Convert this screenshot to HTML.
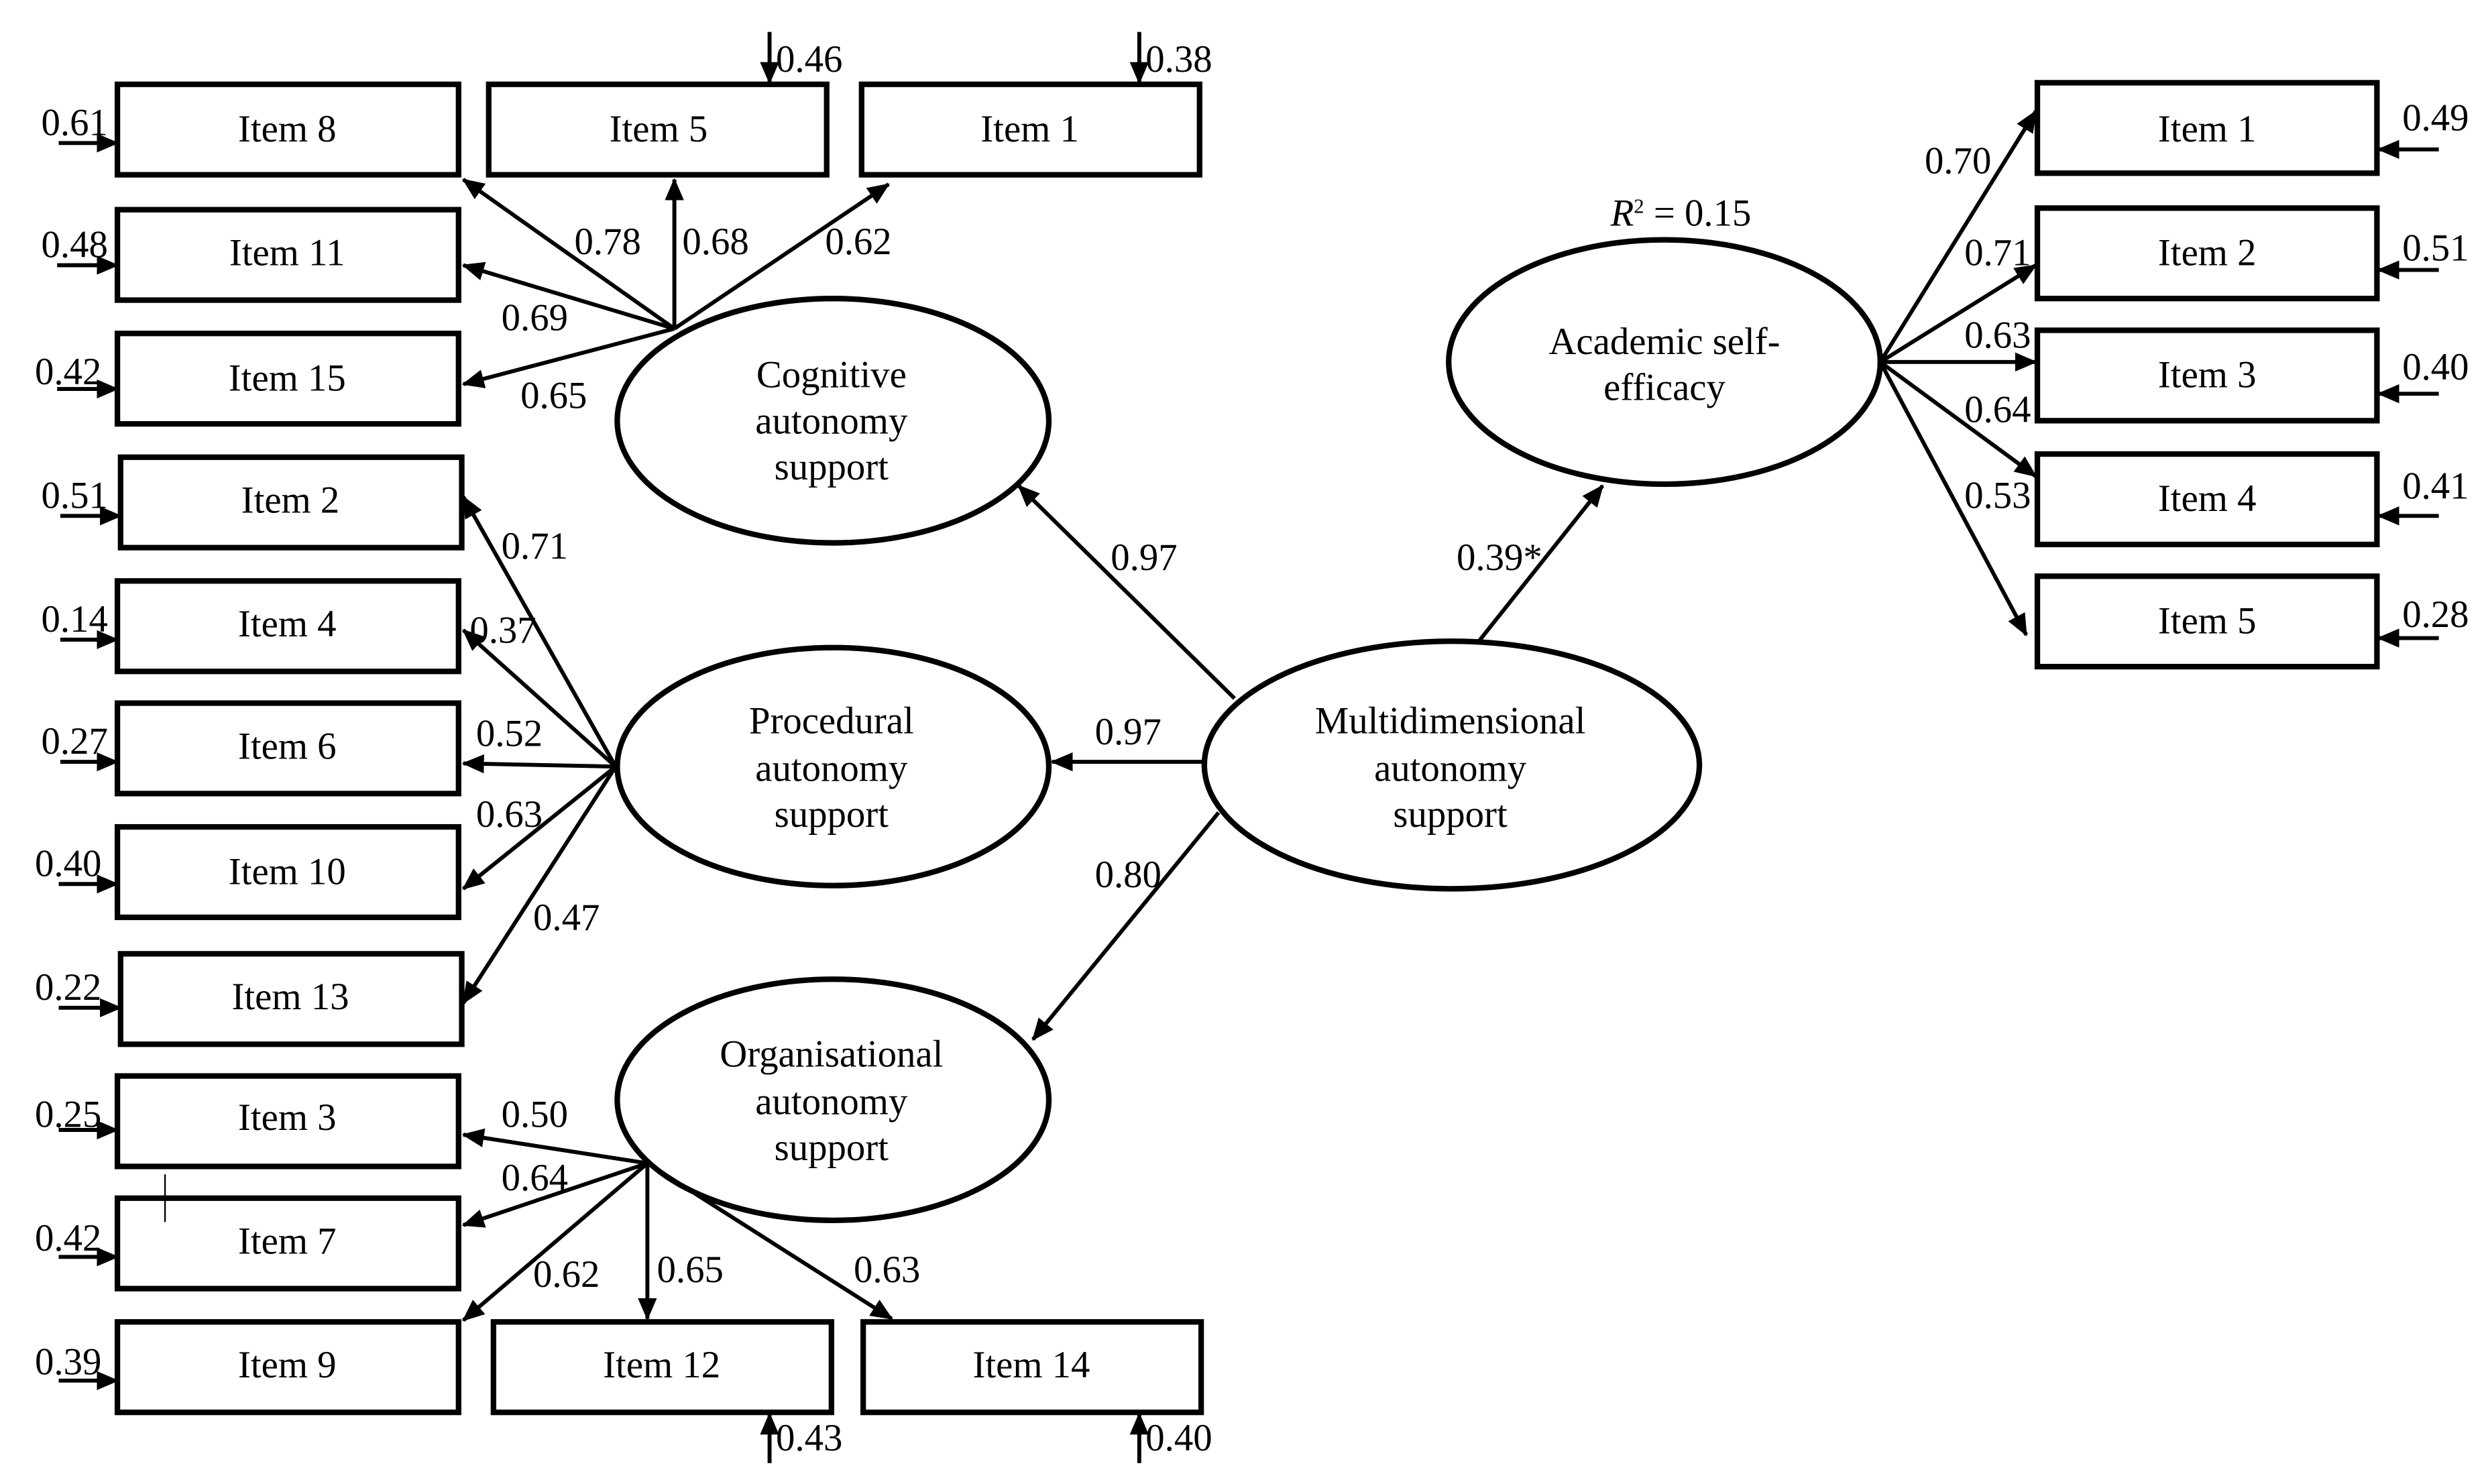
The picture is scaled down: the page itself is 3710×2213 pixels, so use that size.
<!DOCTYPE html>
<html><head><meta charset="utf-8"><style>
html,body{margin:0;padding:0;background:#fff;}
svg{display:block;}
text{font-family:"Liberation Serif",serif;font-size:24px;fill:#000;}
</style></head><body>
<svg width="3710" height="2213" viewBox="0 0 1568 935" xmlns="http://www.w3.org/2000/svg">
<defs>
<marker id="b" markerWidth="14" markerHeight="12" refX="13" refY="6" orient="auto" markerUnits="userSpaceOnUse">
<path d="M0,0 L14,6 L0,12 z" fill="#000"/>
</marker>
</defs>
<g fill="none" stroke="#000" stroke-width="3.5">
<rect x="74" y="53" width="215" height="57"/>
<rect x="74" y="132" width="215" height="57"/>
<rect x="74" y="210" width="215" height="57"/>
<rect x="76" y="288" width="215" height="57"/>
<rect x="74" y="366" width="215" height="57"/>
<rect x="74" y="443" width="215" height="57"/>
<rect x="74" y="521" width="215" height="57"/>
<rect x="76" y="601" width="215" height="57"/>
<rect x="74" y="678" width="215" height="57"/>
<rect x="74" y="755" width="215" height="57"/>
<rect x="74" y="833" width="215" height="57"/>
<rect x="308" y="53" width="213" height="57"/>
<rect x="543" y="53" width="213" height="57"/>
<rect x="311" y="833" width="213" height="57"/>
<rect x="544" y="833" width="213" height="57"/>
<rect x="1284" y="52" width="214" height="57"/>
<rect x="1284" y="131" width="214" height="57"/>
<rect x="1284" y="208" width="214" height="57"/>
<rect x="1284" y="286" width="214" height="57"/>
<rect x="1284" y="363" width="214" height="57"/>
</g>
<g fill="none" stroke="#000" stroke-width="3.5">
<ellipse cx="525" cy="265" rx="136" ry="77"/>
<ellipse cx="525" cy="483" rx="136" ry="75"/>
<ellipse cx="525" cy="693" rx="136" ry="76"/>
<ellipse cx="915" cy="482" rx="156" ry="78"/>
<ellipse cx="1049" cy="228" rx="136" ry="77"/>
</g>
<g stroke="#000" stroke-width="2.5" fill="none" marker-end="url(#b)">
<line x1="425" y1="207" x2="292" y2="113"/>
<line x1="425" y1="207" x2="425" y2="113"/>
<line x1="425" y1="207" x2="560" y2="116"/>
<line x1="425" y1="207" x2="292" y2="167"/>
<line x1="425" y1="207" x2="292" y2="242"/>
<line x1="388" y1="483" x2="292" y2="313"/>
<line x1="388" y1="483" x2="292" y2="397"/>
<line x1="388" y1="483" x2="292" y2="481"/>
<line x1="388" y1="483" x2="292" y2="560"/>
<line x1="388" y1="483" x2="292" y2="632"/>
<line x1="408" y1="733" x2="292" y2="715"/>
<line x1="408" y1="733" x2="292" y2="772"/>
<line x1="408" y1="733" x2="292" y2="832"/>
<line x1="408" y1="733" x2="408" y2="831"/>
<line x1="408" y1="733" x2="562" y2="831"/>
<line x1="778" y1="440" x2="642" y2="306"/>
<line x1="758" y1="480" x2="663" y2="480"/>
<line x1="768" y1="512" x2="651" y2="655"/>
<line x1="932" y1="404" x2="1010" y2="306"/>
<line x1="1185" y1="228" x2="1283" y2="70"/>
<line x1="1185" y1="228" x2="1283" y2="167"/>
<line x1="1185" y1="228" x2="1283" y2="228"/>
<line x1="1185" y1="228" x2="1283" y2="300"/>
<line x1="1185" y1="228" x2="1277" y2="400"/>
<line x1="37" y1="90" x2="74" y2="90"/>
<line x1="36" y1="167" x2="74" y2="167"/>
<line x1="36" y1="245" x2="74" y2="245"/>
<line x1="38" y1="325" x2="76" y2="325"/>
<line x1="38" y1="403" x2="74" y2="403"/>
<line x1="38" y1="480" x2="74" y2="480"/>
<line x1="37" y1="557" x2="74" y2="557"/>
<line x1="37" y1="635" x2="76" y2="635"/>
<line x1="37" y1="712" x2="74" y2="712"/>
<line x1="37" y1="792" x2="74" y2="792"/>
<line x1="37" y1="870" x2="74" y2="870"/>
<line x1="1537" y1="94" x2="1499" y2="94"/>
<line x1="1537" y1="170" x2="1499" y2="170"/>
<line x1="1537" y1="248" x2="1499" y2="248"/>
<line x1="1537" y1="325" x2="1499" y2="325"/>
<line x1="1537" y1="402" x2="1499" y2="402"/>
<line x1="485" y1="20" x2="485" y2="52"/>
<line x1="718" y1="20" x2="718" y2="52"/>
<line x1="485" y1="922" x2="485" y2="891"/>
<line x1="718" y1="922" x2="718" y2="891"/>
</g>
<line x1="104" y1="740" x2="104" y2="770" stroke="#000" stroke-width="1"/>
<g text-anchor="middle">
<text x="181" y="89">Item 8</text>
<text x="181" y="167">Item 11</text>
<text x="181" y="246">Item 15</text>
<text x="183" y="323">Item 2</text>
<text x="181" y="401">Item 4</text>
<text x="181" y="478">Item 6</text>
<text x="181" y="557">Item 10</text>
<text x="183" y="636">Item 13</text>
<text x="181" y="712">Item 3</text>
<text x="181" y="790">Item 7</text>
<text x="181" y="868">Item 9</text>
<text x="415" y="89">Item 5</text>
<text x="649" y="89">Item 1</text>
<text x="417" y="868">Item 12</text>
<text x="650" y="868">Item 14</text>
<text x="1391" y="89">Item 1</text>
<text x="1391" y="167">Item 2</text>
<text x="1391" y="244">Item 3</text>
<text x="1391" y="322">Item 4</text>
<text x="1391" y="399">Item 5</text>
<text x="524" y="244">Cognitive</text>
<text x="524" y="273">autonomy</text>
<text x="524" y="302">support</text>
<text x="524" y="462">Procedural</text>
<text x="524" y="492">autonomy</text>
<text x="524" y="521">support</text>
<text x="524" y="672">Organisational</text>
<text x="524" y="702">autonomy</text>
<text x="524" y="731">support</text>
<text x="914" y="462">Multidimensional</text>
<text x="914" y="492">autonomy</text>
<text x="914" y="521">support</text>
<text x="1049" y="223">Academic self-</text>
<text x="1049" y="252">efficacy</text>
</g>
<g>
<text x="26" y="85">0.61</text>
<text x="26" y="162">0.48</text>
<text x="22" y="242">0.42</text>
<text x="26" y="320">0.51</text>
<text x="26" y="398">0.14</text>
<text x="26" y="475">0.27</text>
<text x="22" y="552">0.40</text>
<text x="22" y="630">0.22</text>
<text x="22" y="710">0.25</text>
<text x="22" y="788">0.42</text>
<text x="22" y="866">0.39</text>
<text x="489" y="45">0.46</text>
<text x="722" y="45">0.38</text>
<text x="489" y="914">0.43</text>
<text x="722" y="914">0.40</text>
<text x="1514" y="82">0.49</text>
<text x="1514" y="164">0.51</text>
<text x="1514" y="239">0.40</text>
<text x="1514" y="314">0.41</text>
<text x="1514" y="395">0.28</text>
<text x="362" y="160">0.78</text>
<text x="430" y="160">0.68</text>
<text x="520" y="160">0.62</text>
<text x="316" y="208">0.69</text>
<text x="328" y="257">0.65</text>
<text x="316" y="352">0.71</text>
<text x="296" y="405">0.37</text>
<text x="300" y="470">0.52</text>
<text x="300" y="521">0.63</text>
<text x="336" y="586">0.47</text>
<text x="316" y="710">0.50</text>
<text x="316" y="750">0.64</text>
<text x="336" y="811">0.62</text>
<text x="414" y="808">0.65</text>
<text x="538" y="808">0.63</text>
<text x="700" y="359">0.97</text>
<text x="690" y="469">0.97</text>
<text x="690" y="559">0.80</text>
<text x="918" y="359">0.39*</text>
<text x="1213" y="109">0.70</text>
<text x="1238" y="167">0.71</text>
<text x="1238" y="219">0.63</text>
<text x="1238" y="266">0.64</text>
<text x="1238" y="320">0.53</text>
<text x="1015" y="142"><tspan font-style="italic">R</tspan><tspan font-size="13" dy="-8">2</tspan><tspan dy="8"> = 0.15</tspan></text>
</g>
</svg>
</body></html>
